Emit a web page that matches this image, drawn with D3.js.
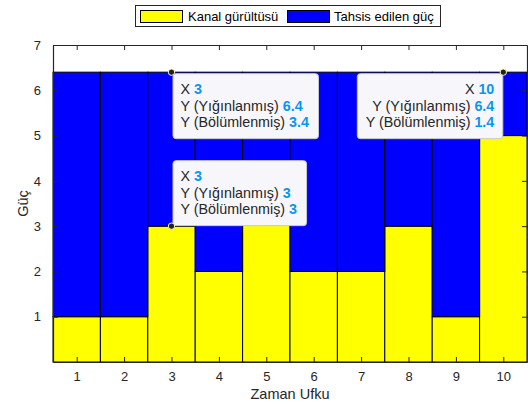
<!DOCTYPE html>
<html>
<head>
<meta charset="utf-8">
<script src="https://cdn.jsdelivr.net/npm/d3@7"></script>
<style>
  body { margin: 0; background: #fff; }
  text { font-family: "Liberation Sans", Arial, sans-serif; }
</style>
</head>
<body>
<div id="chart"></div>
<script>
// veriler
const horizons = [1, 2, 3, 4, 5, 6, 7, 8, 9, 10];
const noise = [1, 1, 3, 2, 4, 2, 2, 3, 1, 5];
const allocated = [5.4, 5.4, 3.4, 4.4, 2.4, 4.4, 4.4, 3.4, 5.4, 1.4];
const seriesNames = ["Kanal gürültüsü", "Tahsis edilen güç"];
const seriesColors = ["#ffff00", "#0000ff"];
const yTicks = [1, 2, 3, 4, 5, 6, 7];
// veri ipuçları: hangi çubuk, hangi seri
const tips = [
  { x: 3, series: 1, align: "left" },
  { x: 3, series: 0, align: "left" },
  { x: 10, series: 1, align: "right" }
];

const width = 528, height = 405;
const margin = { top: 45, right: 1, bottom: 43, left: 53 };

const svg = d3.select("#chart").append("svg")
  .attr("width", width)
  .attr("height", height);

const x = d3.scaleLinear().domain([0.5, 10.5]).range([margin.left, width - margin.right]);
const y = d3.scaleLinear().domain([0, 7]).range([height - margin.bottom, margin.top]);

const stackData = horizons.map((h, i) => ({ h: h, s0: noise[i], s1: allocated[i] }));
const stacked = d3.stack().keys(["s0", "s1"])(stackData);

// çubuklar
const layers = svg.append("g").selectAll("g")
  .data(stacked)
  .join("g")
  .attr("fill", (d, i) => seriesColors[i]);

layers.selectAll("rect")
  .data(d => d)
  .join("rect")
  .attr("x", d => x(d.data.h - 0.5))
  .attr("y", d => y(d[1]))
  .attr("width", d => x(d.data.h + 0.5) - x(d.data.h - 0.5))
  .attr("height", d => y(d[0]) - y(d[1]))
  .attr("stroke", "#000")
  .attr("stroke-width", 1);

// eksenler (ticks içeri)
const axisColor = "#262626";
const tickLen = 5;

const xb = svg.append("g").attr("transform", `translate(0,${y(0)})`)
  .call(d3.axisBottom(x).tickValues(horizons).tickSize(-tickLen).tickPadding(10).tickSizeOuter(0));
const xt = svg.append("g").attr("transform", `translate(0,${y(7)})`)
  .call(d3.axisTop(x).tickValues(horizons).tickSize(-tickLen).tickFormat("").tickSizeOuter(0));
const yl = svg.append("g").attr("transform", `translate(${x(0.5)},0)`)
  .call(d3.axisLeft(y).tickValues(yTicks).tickFormat(d3.format("d")).tickSize(-tickLen).tickPadding(12).tickSizeOuter(0));
const yr = svg.append("g").attr("transform", `translate(${x(10.5)},0)`)
  .call(d3.axisRight(y).tickValues(yTicks).tickSize(-tickLen).tickFormat("").tickSizeOuter(0));

[xb, xt, yl, yr].forEach(g => {
  g.selectAll("path.domain").attr("stroke", axisColor).attr("stroke-width", 1.2);
  g.selectAll(".tick line").attr("stroke", axisColor);
  g.selectAll(".tick text").attr("fill", axisColor).style("font-size", "13px")
    .style("font-family", "'Liberation Sans', Arial, sans-serif");
});

// eksen etiketleri
svg.append("text")
  .attr("x", (x(0.5) + x(10.5)) / 2)
  .attr("y", 399)
  .attr("text-anchor", "middle")
  .attr("fill", axisColor)
  .style("font-size", "14.5px")
  .text("Zaman Ufku");

svg.append("text")
  .attr("transform", `translate(28,${y(3.5)}) rotate(-90)`)
  .attr("text-anchor", "middle")
  .attr("fill", axisColor)
  .style("font-size", "14.5px")
  .text("Güç");

// gösterge
const legend = svg.append("g");
legend.append("rect")
  .attr("x", 135.5).attr("y", 5.5).attr("width", 305).attr("height", 21)
  .attr("fill", "#fff").attr("stroke", "#262626");
const legendItems = [
  { sx: 140, tx: 188 },
  { sx: 287, tx: 334 }
];
legendItems.forEach((li, i) => {
  legend.append("rect")
    .attr("x", li.sx + 0.5).attr("y", 10.5).attr("width", 42).attr("height", 12)
    .attr("fill", seriesColors[i]).attr("stroke", "#000");
  legend.append("text")
    .attr("x", li.tx).attr("y", 21)
    .attr("fill", "#000")
    .style("font-size", "13px")
    .text(seriesNames[i]);
});

// veri ipuçları
const tipLayer = svg.append("g");
tips.forEach(t => {
  const i = horizons.indexOf(t.x);
  const stackedVal = t.series === 0 ? noise[i] : noise[i] + allocated[i];
  const partVal = t.series === 0 ? noise[i] : allocated[i];
  const px = x(t.x), py = y(stackedVal);
  const lines = [
    ["X ", t.x],
    ["Y (Yığınlanmış) ", +stackedVal.toFixed(4)],
    ["Y (Bölümlenmiş) ", +partVal.toFixed(4)]
  ];

  const g = tipLayer.append("g");
  const box = g.append("rect").attr("rx", 3).attr("ry", 3)
    .attr("fill", "#f7f7fb").attr("stroke", "#c8c8cc").attr("stroke-width", 1);
  const texts = lines.map(l => {
    const tx = g.append("text").style("font-size", "14.3px");
    tx.append("tspan").attr("fill", "#262626").text(l[0]);
    tx.append("tspan").attr("fill", "#0a96f0").style("font-weight", "bold").text(l[1]);
    return tx;
  });
  const w = d3.max(texts, tx => tx.node().getComputedTextLength());
  const bw = w + 17, bh = 65;
  const bx = t.align === "left" ? px + 1 : px - 1 - bw;
  const by = t.series === 1 ? py + 1 : py - 1 - bh;
  box.attr("x", bx + 0.5).attr("y", by + 0.5).attr("width", bw).attr("height", bh);
  texts.forEach((tx, k) => {
    if (t.align === "left") {
      tx.attr("x", bx + 8).attr("text-anchor", "start");
    } else {
      tx.attr("x", bx + bw - 8).attr("text-anchor", "end");
    }
    tx.attr("y", by + 21 + k * 16.5);
  });

  g.append("circle").attr("cx", px).attr("cy", py).attr("r", 3.2)
    .attr("fill", "#222").attr("stroke", "#ffffcc").attr("stroke-width", 1);
});
</script>
</body>
</html>
